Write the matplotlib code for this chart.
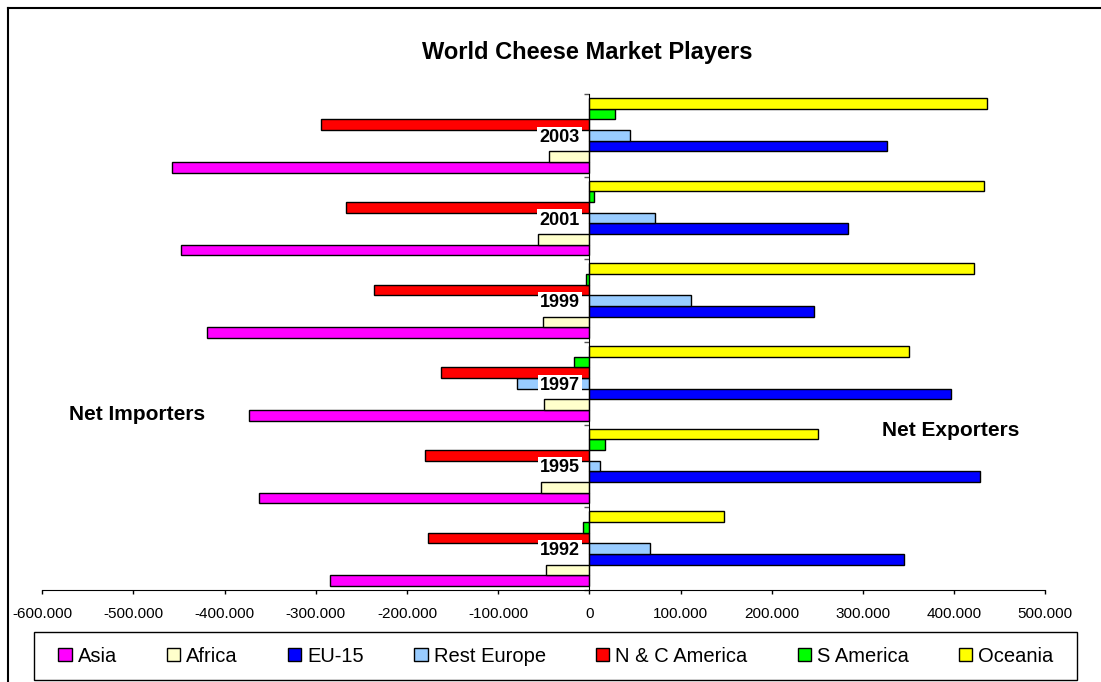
import matplotlib
matplotlib.use("Agg")
import matplotlib.pyplot as plt
from matplotlib.lines import Line2D
from matplotlib.patches import Rectangle
from matplotlib.ticker import FuncFormatter, FixedLocator

plt.rcParams['font.family'] = ['Liberation Sans', 'DejaVu Sans']

# net trade in cheese (tonnes), negative = net importer
years = ['1992', '1995', '1997', '1999', '2001', '2003']
asia = [-285000, -362700, -373700, -419000, -448400, -457500]
africa = [-47200, -53000, -50200, -50500, -56400, -44300]
eu15 = [344800, 427900, 396400, 246000, 284000, 326500]
rest_europe = [66200, 12100, -79800, 111000, 72500, 45000]
nc_america = [-177000, -180000, -162200, -235700, -266500, -294000]
s_america = [-6900, 17200, -17200, -3700, 5500, 28200]
oceania = [147100, 251000, 350000, 421700, 432600, 435600]

regions = ['Asia', 'Africa', 'EU-15', 'Rest Europe', 'N & C America', 'S America', 'Oceania']
series = [asia, africa, eu15, rest_europe, nc_america, s_america, oceania]
colors = ['#FF00FF', '#FFFFCC', '#0000FF', '#99CCFF', '#FF0000', '#00FF00', '#FFFF00']

W, H = 1101, 682
fig = plt.figure(figsize=(W / 100, H / 100), dpi=100)
ax = fig.add_axes([42.3 / W, 1 - 590 / H, (1045.3 - 42.3) / W, (590 - 94) / H])

h = 0.1296
ypos = range(len(years))
for i, (name, vals, c) in enumerate(zip(regions, series, colors)):
    ax.barh([y + (i - 3) * h for y in ypos], vals, height=h, color=c,
            edgecolor='black', linewidth=1, label=name)

ax.set_xlim(-600000, 500000)
ax.set_ylim(-0.5, len(years) - 0.5)

ax.spines['top'].set_visible(False)
ax.spines['right'].set_visible(False)
ax.spines['left'].set_position(('data', 0))
ax.spines['left'].set_zorder(3)

ax.set_xticks(range(-600000, 500001, 100000))
ax.xaxis.set_major_formatter(FuncFormatter(lambda v, p: f"{int(v):,}".replace(',', '.')))
ax.tick_params(axis='x', direction='out', length=3, width=1, pad=9, labelsize=11)

ax.set_yticks(list(ypos))
ax.set_yticklabels(years)
ax.yaxis.set_minor_locator(FixedLocator([y - 0.5 for y in range(len(years) + 1)]))
ax.tick_params(axis='y', which='major', length=0, pad=7, labelsize=13)
ax.tick_params(axis='y', which='minor', direction='out', length=3.6, width=1, color='#555555')
for t in ax.yaxis.get_major_ticks():
    t.label1.set_fontweight('bold')
    t.label1.set_bbox(dict(facecolor='white', edgecolor='none', pad=1.5))

fig.text(587.5 / W, 1 - 52.3 / H, 'World Cheese Market Players', ha='center', va='center',
         fontsize=17, fontweight='bold')
fig.text(205 / W, 1 - 414.3 / H, 'Net Importers', ha='right', va='center',
         fontsize=15, fontweight='bold')
fig.text(881.7 / W, 1 - 430 / H, 'Net Exporters', ha='left', va='center',
         fontsize=15, fontweight='bold')

# legend box drawn separately so its padding can be wider than the entries need
fig.add_artist(Rectangle((34.3 / W, 1 - 680 / H), (1077 - 34.3) / W, (680 - 631.7) / H,
                         transform=fig.transFigure, facecolor='white',
                         edgecolor='black', linewidth=1))
leg = fig.legend(loc='center', bbox_to_anchor=(556 / W, 1 - 656 / H), ncol=7,
                 fontsize=14.5, frameon=False,
                 handlelength=0.65, handleheight=0.65, handletextpad=0.3,
                 columnspacing=2.5, borderpad=0.2)

# outer chart frame
fig.add_artist(Line2D([8 / W, 8 / W], [0, 1 - 8 / H], transform=fig.transFigure,
                      color='black', linewidth=1.5))
fig.add_artist(Line2D([8 / W, 1], [1 - 8 / H, 1 - 8 / H], transform=fig.transFigure,
                      color='black', linewidth=1.5))

fig.savefig('out.png', dpi=100)
